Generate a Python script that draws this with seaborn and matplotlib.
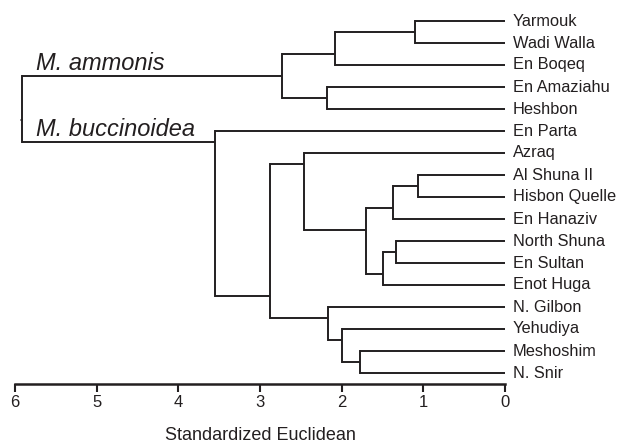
import numpy as np
import seaborn as sns
import matplotlib.pyplot as plt

# leaves in the drawn order, top to bottom
leaves = ['Yarmouk', 'Wadi Walla', 'En Boqeq', 'En Amaziahu', 'Heshbon', 'En Parta',
          'Azraq', 'Al Shuna II', 'Hisbon Quelle', 'En Hanaziv', 'North Shuna',
          'En Sultan', 'Enot Huga', 'N. Gilbon', 'Yehudiya', 'Meshoshim', 'N. Snir']

# linkage: (child a, child b, height); ids >= 17 are earlier merges
merge_a = [0, 7, 10, 18, 19, 20, 15, 14, 17, 13, 3, 6, 25, 28, 5, 29]
merge_b = [1, 8, 11, 9, 12, 21, 16, 23, 2, 24, 4, 22, 27, 26, 30, 31]
merge_h = [1.10, 1.07, 1.34, 1.37, 1.50, 1.70, 1.77, 2.00, 2.08, 2.17, 2.18,
           2.46, 2.73, 2.88, 3.55, 5.91]

groups = ['M. ammonis', 'M. buccinoidea']
ticks = [6, 5, 4, 3, 2, 1, 0]

sns.set_style('white')
plt.rcParams['font.family'] = ['Liberation Sans', 'DejaVu Sans']
ink = '#231f20'

n = len(leaves)
# for each node: leaf span (first, last), anchor y, height
first = {i: i for i in range(n)}
last = {i: i for i in range(n)}
anchor = {i: float(i) for i in range(n)}
height = {i: 0.0 for i in range(n)}

fig = plt.figure(figsize=(6.27, 4.43), dpi=100)
ax = fig.add_axes([15 / 627, 1 - 384 / 443, 490 / 627, 374 / 443])

for k, (a, b, h) in enumerate(zip(merge_a, merge_b, merge_h)):
    node = n + k
    first[node] = first[a]
    last[node] = last[b]
    # branch leaves the node between the two child groups
    anchor[node] = (last[a] + first[b]) / 2
    height[node] = h
    ax.plot([h, h], [anchor[a], anchor[b]], color=ink, lw=1.4, solid_capstyle='projecting')
    for c in (a, b):
        ax.plot([height[c], h], [anchor[c], anchor[c]], color=ink, lw=1.4,
                solid_capstyle='butt')

root = n + len(merge_h) - 1
ax.plot([height[root], height[root] + 0.015], [anchor[root], anchor[root]], color=ink, lw=1.2)

for i, name in enumerate(leaves):
    ax.annotate(name, (0, i), xytext=(5.5, 0), textcoords='offset points',
                va='center', ha='left', fontsize=11.8, color=ink, annotation_clip=False)

# species names sit on the two main branches
ra, rb = merge_a[-1], merge_b[-1]
for g, c in zip(groups, (ra, rb)):
    ax.annotate(g, (height[root], anchor[c]), xytext=(10, 4.3), textcoords='offset points',
                va='baseline', ha='left', fontsize=17, style='italic', color=ink)

ax.set_xlim(6, 0)
ax.set_ylim(n - 0.5, -0.5)
ax.set_xticks(ticks)
ax.set_xticklabels([str(t) for t in ticks], fontsize=12, color=ink)
ax.set_yticks([])
ax.tick_params(axis='x', direction='out', length=5.5, width=1.5, color=ink, pad=2.5,
               bottom=True)
ax.set_xlabel('Standardized Euclidean', fontsize=13, color=ink, labelpad=12.5)
sns.despine(ax=ax, left=True)
ax.spines['bottom'].set_linewidth(1.8)
ax.spines['bottom'].set_color(ink)
ax.patch.set_alpha(0)

fig.savefig('out.png', dpi=100)
